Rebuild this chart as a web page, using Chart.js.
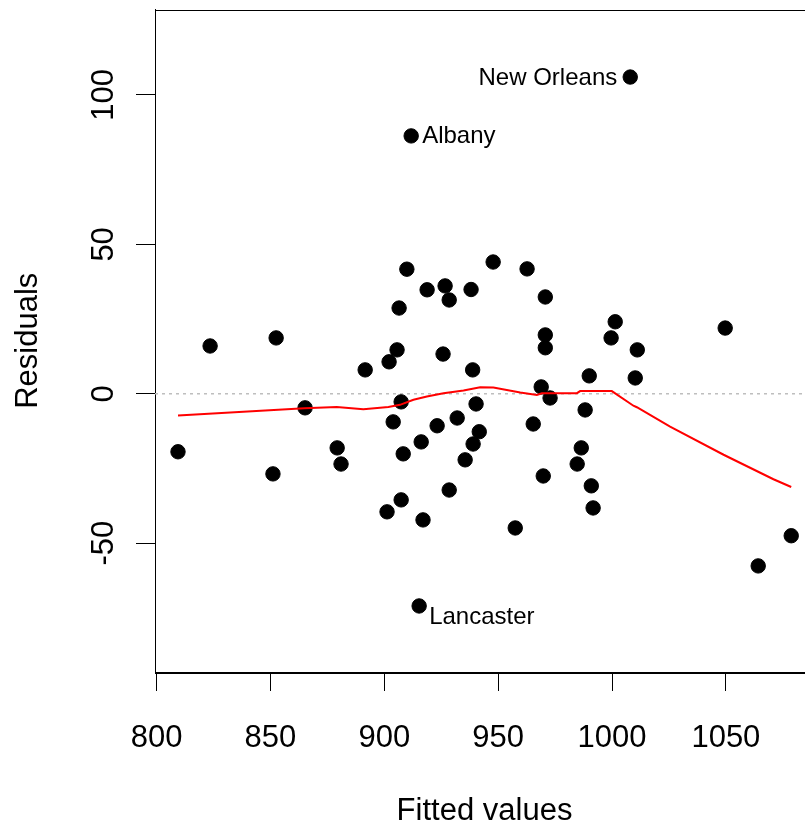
<!DOCTYPE html>
<html>
<head>
<meta charset="UTF-8">
<title>Residuals vs Fitted</title>
<script src="https://cdn.jsdelivr.net/npm/chart.js"></script>
<style>
  html, body { margin: 0; padding: 0; background: #fff; overflow: hidden; }
  #wrap { width: 805px; height: 828px; overflow: hidden; }
  canvas { display: block; }
</style>
</head>
<body>
<div id="wrap"><canvas id="plot" width="830" height="828"></canvas></div>
<script>
// fitted values / residuals
const fitted = [809.4, 823.5, 851.1, 852.5, 865.2, 879.3, 881.0, 891.6, 902.1, 905.6,
  906.5, 909.9, 911.8, 903.9, 907.4, 908.3, 907.4, 901.2, 916.2, 918.8,
  923.2, 926.7, 928.5, 925.8, 917.0, 928.5, 915.3, 932.0, 935.5, 938.1,
  938.8, 940.3, 941.7, 939.0, 947.8, 962.7, 957.5, 970.7, 970.7, 970.7,
  968.9, 972.8, 965.4, 969.8, 984.7, 986.5, 988.2, 990.0, 990.9, 991.7,
  999.6, 1001.4, 1010.2, 1011.1, 1008.0, 1049.7, 1064.2, 1078.7];
const resid = [-19.4, 16.0, -26.8, 18.7, -4.7, -18.1, -23.5, 8.0, 10.7, 14.7,
  28.7, 41.7, 86.3, -9.4, -2.7, -20.1, -35.5, -39.5, -16.1, 34.8,
  -10.7, 36.1, 31.4, 13.3, -42.2, -32.2, -71.0, -8.1, -22.1, 34.9,
  8.0, -3.4, -12.7, -16.8, 44.1, 41.8, -44.9, 32.4, 19.7, 15.4,
  2.3, -1.4, -10.1, -27.5, -23.5, -18.1, -5.4, 6.0, -30.8, -38.2,
  18.7, 24.1, 5.3, 14.7, 106.0, 22.0, -57.6, -47.5];

// labelled cities (index into fitted/resid)
const labelNames = ['Albany', 'Lancaster', 'New Orleans'];
const labelIdx = [12, 26, 54];

// lowess smooth (red)
const smoothX = [809.4, 864.9, 879.1, 890.8, 901.8, 906.9, 912.8, 918.7, 926.0, 934.8,
  942.1, 947.9, 959.7, 967.0, 969.2, 984.6, 986.0, 999.9, 1009.4, 1010.9,
  1025.5, 1049.0, 1070.9, 1078.7];
const smoothY = [-7.3, -4.8, -4.4, -5.2, -4.4, -3.7, -2.0, -0.9, 0.2, 1.1,
  2.2, 2.1, 0.4, -0.4, 0.2, 0.2, 0.9, 0.9, -4.0, -4.5,
  -11.0, -20.4, -28.6, -31.2];

const xLim = [799.3, 1088.7];
const yLim = [-93.1, 128.6];
const xTicks = [800, 850, 900, 950, 1000, 1050];
const yTicks = [-50, 0, 50, 100];
const zeroY = [0, 0];

const FONT = '"Liberation Sans", Arial, Helvetica, sans-serif';

// box round the plot region, like R's box()
const boxPlugin = {
  id: 'box',
  beforeDatasetsDraw(chart) {
    const a = chart.chartArea, ctx = chart.ctx;
    ctx.save();
    ctx.strokeStyle = '#000';
    ctx.lineWidth = 1;
    ctx.strokeRect(Math.round(a.left) + 0.5, Math.round(a.top) + 0.5,
      Math.round(a.right - a.left), Math.round(a.bottom - a.top));
    ctx.restore();
  }
};

// point labels drawn next to the point elements
const labelPlugin = {
  id: 'pointLabels',
  afterDatasetsDraw(chart) {
    const meta = chart.getDatasetMeta(1);
    const ctx = chart.ctx;
    const place = {
      'Albany': { align: 'left', dx: 11, dy: 0.5 },
      'Lancaster': { align: 'left', dx: 10, dy: 11.5 },
      'New Orleans': { align: 'right', dx: -13, dy: 1 }
    };
    ctx.save();
    ctx.font = '24px ' + FONT;
    ctx.fillStyle = '#000';
    ctx.textBaseline = 'middle';
    labelIdx.forEach((idx, i) => {
      const el = meta.data[idx];
      const p = place[labelNames[i]];
      ctx.textAlign = p.align;
      ctx.fillText(labelNames[i], el.x + p.dx, el.y + p.dy);
    });
    ctx.restore();
  }
};

new Chart(document.getElementById('plot').getContext('2d'), {
  type: 'scatter',
  data: {
    datasets: [
      {
        label: 'lowess',
        data: smoothX.map((x, i) => ({ x: x, y: smoothY[i] })),
        showLine: true,
        borderColor: '#ff0000',
        borderWidth: 2,
        pointRadius: 0,
        order: 0
      },
      {
        label: 'residuals',
        data: fitted.map((x, i) => ({ x: x, y: resid[i] })),
        backgroundColor: '#000',
        borderColor: '#000',
        borderWidth: 1,
        pointRadius: 7.2,
        order: 1
      },
      {
        label: 'zero',
        data: xLim.map((x, i) => ({ x: x, y: zeroY[i] })),
        showLine: true,
        borderColor: '#bebebe',
        borderWidth: 1.5,
        borderDash: [3, 4],
        pointRadius: 0,
        order: 2
      }
    ]
  },
  options: {
    responsive: false,
    animation: false,
    devicePixelRatio: 1,
    layout: { padding: { top: 9.5, right: 16, bottom: 0, left: 0 } },
    plugins: { legend: { display: false }, tooltip: { enabled: false } },
    scales: {
      x: {
        type: 'linear',
        min: xLim[0],
        max: xLim[1],
        afterBuildTicks(scale) { scale.ticks = xTicks.map(v => ({ value: v })); },
        afterFit(scale) { scale.height = 156; scale.paddingLeft = 0; scale.paddingRight = 0; },
        ticks: {
          autoSkip: false,
          maxRotation: 0,
          padding: 29,
          color: '#000',
          font: { family: FONT, size: 31 },
          callback: v => String(v)
        },
        grid: { drawOnChartArea: false, tickLength: 19, color: '#000', lineWidth: 1 },
        border: { display: true, color: '#000', width: 1 },
        title: {
          display: true,
          text: 'Fitted values',
          color: '#000',
          font: { family: FONT, size: 31 },
          padding: { top: 0, bottom: -2 }
        }
      },
      y: {
        type: 'linear',
        min: yLim[0],
        max: yLim[1],
        afterBuildTicks(scale) { scale.ticks = yTicks.map(v => ({ value: v })); },
        afterFit(scale) { scale.width = 155; scale.paddingTop = 0; scale.paddingBottom = 0; },
        ticks: {
          autoSkip: false,
          minRotation: 90,
          maxRotation: 90,
          crossAlign: 'center',
          padding: 6,
          color: '#000',
          font: { family: FONT, size: 31 },
          callback: v => String(v)
        },
        grid: { drawOnChartArea: false, tickLength: 19, color: '#000', lineWidth: 1 },
        border: { display: true, color: '#000', width: 1 },
        title: {
          display: true,
          text: 'Residuals',
          color: '#000',
          font: { family: FONT, size: 31 },
          padding: { top: 10, bottom: 0 }
        }
      }
    }
  },
  plugins: [boxPlugin, labelPlugin]
});
</script>
</body>
</html>
